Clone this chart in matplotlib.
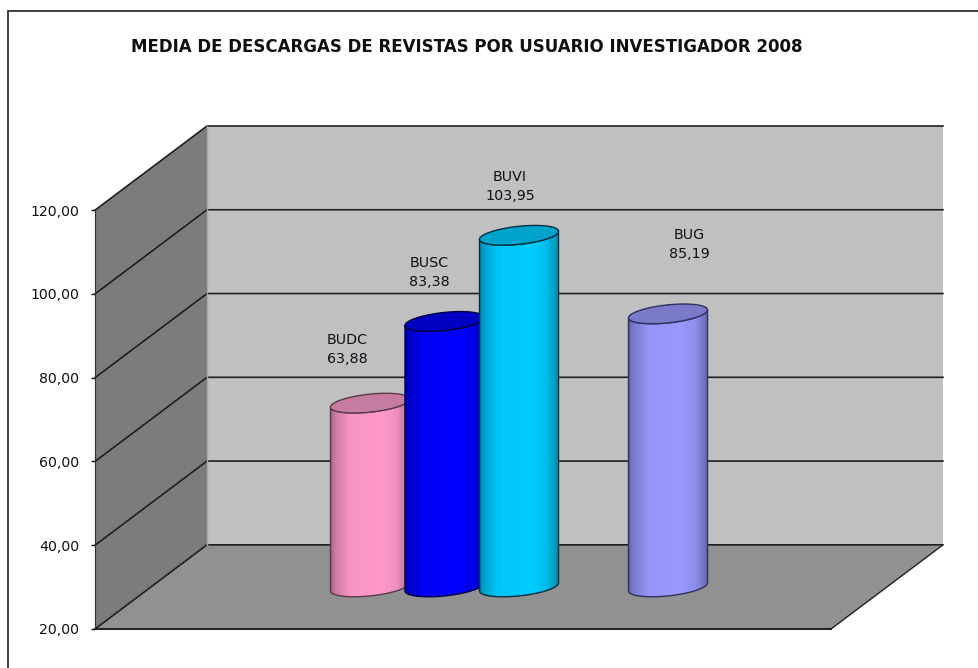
import numpy as np
from matplotlib import pyplot as plt
from matplotlib.colors import to_rgb
from matplotlib.patches import Polygon, PathPatch, Rectangle
from matplotlib.path import Path
from matplotlib.ticker import FuncFormatter

# Chart data
names = ['BUDC', 'BUSC', 'BUVI', 'BUG']
values = [63.88, 83.38, 103.95, 85.19]
slots = [0, 1, 2, 4]
yTicks = [20, 40, 60, 80, 100, 120]
title = 'MEDIA DE DESCARGAS DE REVISTAS POR USUARIO INVESTIGADOR 2008'

# Styles
bodyColors = ['#ff99cc', '#0000ff', '#00ccff', '#9999ff']
topColors = ['#c67ba0', '#0000c4', '#00a3cc', '#7a7ac8']
edgeColors = ['#5a3a4a', '#000040', '#003040', '#303060']
labelOffsets = [(-23, 54), (-15, 49), (-9, 49), (21, 69)]

W, H = 979, 668
pxX = 74.5   # pixels per bar slot
pxY = 4.18   # pixels per value unit
depthX = 112 / pxX
depthY = 84 / pxY
xLeft = (95 - 314) / pxX
xFront = (831 - 314) / pxX
yMin, yMax = 20, 120

fig = plt.figure(figsize=(W / 100, H / 100), dpi=100, facecolor='white')
ax = fig.add_axes([95 / W, (H - 629) / H, 848 / W, 503 / H])
ax.set_facecolor('none')

# Outer frame of the chart
fig.add_artist(Rectangle((8 / W, -1), 2, 1 + (H - 11) / H, transform=fig.transFigure,
                         fill=False, ec='#303030', lw=1.3))

# Walls and floor
ax.add_patch(Polygon([(xLeft + depthX, yMin + depthY), (xFront + depthX, yMin + depthY),
                      (xFront + depthX, yMax + depthY), (xLeft + depthX, yMax + depthY)],
                     fc='#c0c0c0', ec='none', zorder=1))
ax.add_patch(Polygon([(xLeft, yMin), (xLeft + depthX, yMin + depthY),
                      (xLeft + depthX, yMax + depthY), (xLeft, yMax)],
                     fc='#7c7c7c', ec='none', zorder=1))
ax.add_patch(Polygon([(xLeft, yMin), (xFront, yMin), (xFront + depthX, yMin + depthY),
                      (xLeft + depthX, yMin + depthY)],
                     fc='#919191', ec='none', zorder=1))

# Gridlines along side wall and back wall
for v in yTicks:
    ax.plot([xLeft, xLeft + depthX, xFront + depthX], [v, v + depthY, v + depthY],
            color='#202020', lw=1.2, zorder=2, clip_on=False)
ax.plot([xLeft + depthX, xLeft + depthX], [yMin + depthY, yMax + depthY],
        color='#a8a8a8', lw=1, zorder=2)
ax.plot([xLeft, xFront], [yMin, yMin], color='#202020', lw=1.4, zorder=2, clip_on=False)
ax.plot([xFront, xFront + depthX], [yMin, yMin + depthY], color='#202020', lw=1, zorder=2)

# Cylinders, standing half way into the depth
rx = 39.5 / pxX
ry = 9 / pxY
tilt = 4 / pxY


def ellipse(cx, cy, t):
    return cx + rx * np.cos(t), cy + ry * np.sin(t) + tilt * np.cos(t)


shade = np.interp(np.linspace(0, 1, 200), [0, 0.05, 0.25, 0.65, 0.85, 1],
                  [0.6, 0.78, 0.97, 1, 0.93, 0.7])

for i, (s, v) in enumerate(zip(slots, values)):
    cx = s + depthX / 2
    base = yMin + depthY / 2
    top = v + depthY / 2
    z = 3 + i
    xb, yb = ellipse(cx, base, np.linspace(np.pi, 2 * np.pi, 60))
    xt, yt = ellipse(cx, top, np.linspace(2 * np.pi, np.pi, 60))
    verts = np.vstack([np.column_stack([xb, yb]), np.column_stack([xt, yt]), [[xb[0], yb[0]]]])
    ax.add_patch(PathPatch(Path(verts), fc='none', ec=edgeColors[i], lw=1, zorder=z + 0.2))
    rgb = np.array(to_rgb(bodyColors[i]))
    grad = np.clip(rgb[None, None, :] * shade[None, :, None], 0, 1)
    im = ax.imshow(grad, extent=(cx - rx, cx + rx, yMin, top + 5), aspect='auto',
                   interpolation='bilinear', zorder=z)
    im.set_clip_path(PathPatch(Path(verts), transform=ax.transData))
    xe, ye = ellipse(cx, top, np.linspace(0, 2 * np.pi, 120))
    ax.add_patch(Polygon(np.column_stack([xe, ye]), fc=topColors[i], ec=edgeColors[i],
                         lw=1, zorder=z + 0.4))
    ax.annotate('%s\n%s' % (names[i], ('%.2f' % v).replace('.', ',')),
                xy=(cx, top), xytext=(labelOffsets[i][0] * 0.72, labelOffsets[i][1] * 0.72),
                textcoords='offset points', ha='center', va='center', fontsize=10.3,
                linespacing=1.45, color='#101018', zorder=10)

ax.set_xlim(xLeft, xFront + depthX)
ax.set_ylim(yMin, yMax + depthY)
ax.set_xticks([])
ax.set_yticks(yTicks)
ax.yaxis.set_major_formatter(FuncFormatter(lambda v, p: ('%.2f' % v).replace('.', ',')))
ax.tick_params(axis='y', length=3, width=1, pad=8.5, labelsize=10.2, colors='#101018')
for name, sp in ax.spines.items():
    sp.set_visible(False)
ax.spines['left'].set_visible(True)
ax.spines['left'].set_bounds(yMin, yMax)
ax.spines['left'].set_color('#303030')
ax.spines['left'].set_zorder(2.5)

fig.text(131 / W, (H - 47) / H, title, fontsize=11.95, fontweight='bold',
         color='#101010', ha='left', va='center')

fig.savefig('out.png', dpi=100)
